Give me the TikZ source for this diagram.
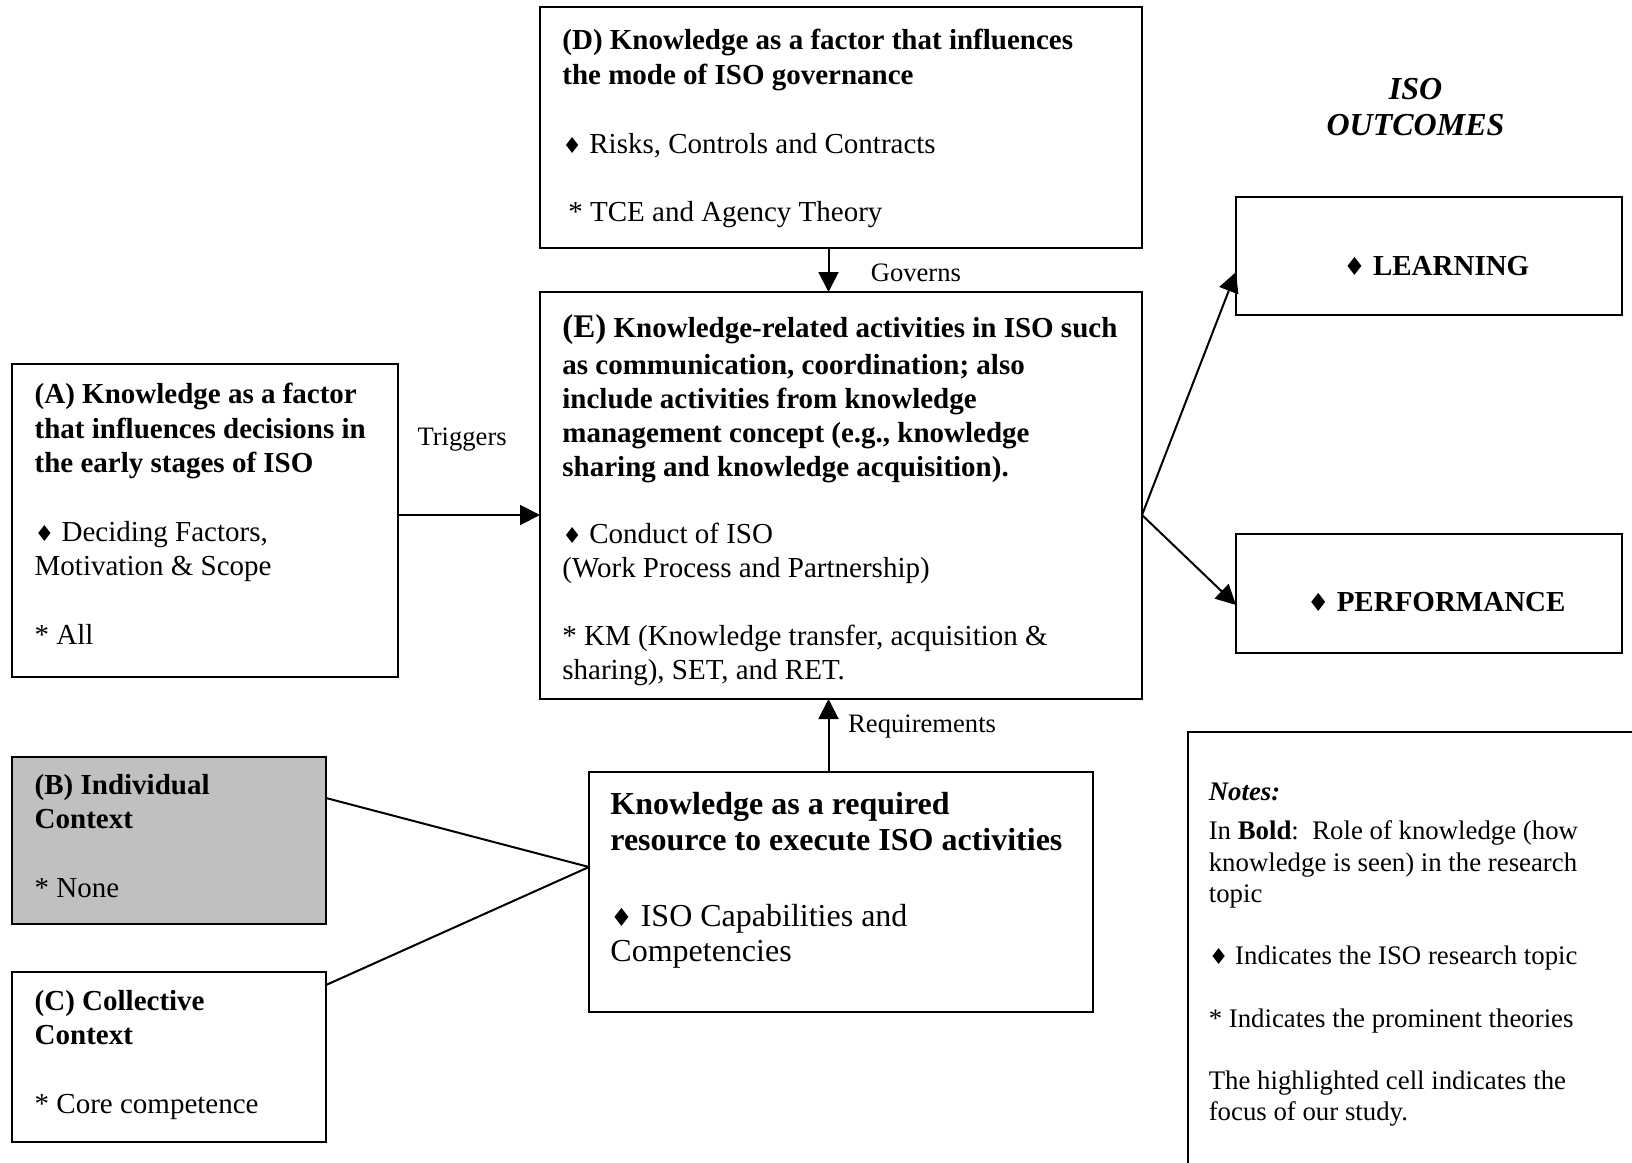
\documentclass[tikz,border=0pt]{standalone}
\usepackage{fontspec}
\setmainfont{Liberation Serif}
\newfontfamily\dejavu{DejaVu Sans}
\usetikzlibrary{arrows.meta}
\definecolor{boxgray}{RGB}{192,192,192}
\newcommand{\dmd}{{\dejavu\fontsize{11}{9}\selectfont ♦}}
\newcommand{\bigdmd}{{\dejavu\fontsize{12.5}{10}\selectfont ♦}}
\begin{document}
\begin{tikzpicture}[x=0.5pt,y=-0.5pt,
  box/.style={draw, line width=1pt, inner sep=0pt, outer sep=0pt},
  txt/.style={anchor=north west, inner sep=0pt, align=left, font=\fontsize{14.5}{17.2}\selectfont},
  etxt/.style={anchor=north west, inner sep=0pt, align=left, font=\fontsize{14.5}{16.9}\selectfont},
  bigtxt/.style={anchor=north west, inner sep=0pt, align=left, font=\fontsize{16}{17.7}\selectfont},
  notetxt/.style={anchor=north west, inner sep=0pt, align=left, font=\fontsize{13.4}{15.6}\selectfont},
  lbl/.style={inner sep=0pt, font=\fontsize{13.3}{15}\selectfont},
  arr/.style={line width=1pt, -{Triangle[length=10pt,width=10pt]}},
  ln/.style={line width=1pt}]
\useasboundingbox (0,0) rectangle (1632,1162);
\clip (0,0) rectangle (1632,1162);
\fill[white] (0,0) rectangle (1632,1162);

% boxes
\node[box, minimum width=301pt, minimum height=120.5pt] (D) at (841,127.5) {};
\node[box, minimum width=301pt, minimum height=203.5pt] (E) at (841,495.5) {};
\node[box, minimum width=193pt, minimum height=156.5pt] (A) at (205,520.5) {};
\node[box, fill=boxgray, minimum width=157pt, minimum height=83.5pt] (B) at (169,840.5) {};
\node[box, minimum width=157pt, minimum height=85pt] (C) at (169,1057) {};
\node[box, minimum width=252pt, minimum height=120pt] (K) at (841,892) {};
\node[box, minimum width=193pt, minimum height=59pt] (L) at (1429,256) {};
\node[box, minimum width=193pt, minimum height=59.5pt] (P) at (1429,593.5) {};
\node[box, minimum width=236pt, minimum height=229pt] (N) at (1424,961) {};

% texts
\node[txt] (Dt) at (562,25.5) {\strut\textbf{(D) Knowledge as a factor that influences}\\
\textbf{the mode of ISO governance}\\[17.2pt]
\dmd\ Risks, Controls and Contracts\\[17.2pt]
\hspace{3pt}* TCE and Agency Theory};

\node[etxt] (Et) at (562,313.5) {\strut\textbf{{\fontsize{16.5}{16.9}\selectfont (E)} Knowledge-related activities in ISO such}\\[1.8pt]
\textbf{as communication, coordination; also}\\
\textbf{include activities from knowledge}\\
\textbf{management concept (e.g., knowledge}\\
\textbf{sharing and knowledge acquisition).}\\[16.9pt]
\dmd\ Conduct of ISO\\
(Work Process and Partnership)\\[16.9pt]
* KM (Knowledge transfer, acquisition \&\\
sharing), SET, and RET.};

\node[txt] (At) at (34.3,379.3) {\strut\textbf{(A) Knowledge as a factor}\\
\textbf{that influences decisions in}\\
\textbf{the early stages of ISO}\\[17.2pt]
\dmd\ Deciding Factors,\\
Motivation \& Scope\\[17.2pt]
* All};

\node[txt] (Bt) at (34.3,769.6) {\strut\textbf{(B) Individual}\\
\textbf{Context}\\[17.2pt]
* None};

\node[txt] (Ct) at (34.3,986.1) {\strut\textbf{(C) Collective}\\
\textbf{Context}\\[17.2pt]
* Core competence};

\node[bigtxt] (Kt) at (610,789.7) {\strut\textbf{Knowledge as a required}\\
\textbf{resource to execute ISO activities}\\[20.3pt]
\bigdmd\ ISO Capabilities and\\
Competencies};

\node[notetxt] (Nt) at (1208.4,778.7) {\strut\textbf{\textit{Notes:}}\\[3.85pt]
In \textbf{Bold}:\ \ Role of knowledge (how\\
knowledge is seen) in the research\\
topic\\[15.6pt]
\dmd\ Indicates the ISO research topic\\[15.6pt]
* Indicates the prominent theories\\[15.6pt]
The highlighted cell indicates the\\
focus of our study.};

\node[inner sep=0pt, font=\fontsize{14.5}{17.2}\selectfont\bfseries] (Lt) at (1436.3,266.4) {\bigdmd\ LEARNING};
\node[inner sep=0pt, font=\fontsize{14.5}{17.2}\selectfont\bfseries] (Pt) at (1436.3,601.6) {\bigdmd\ PERFORMANCE};

\node[inner sep=0pt, align=center, font=\fontsize{16}{17.7}\selectfont\bfseries\itshape] (O) at (1415.5,107.2) {ISO\\OUTCOMES};

% labels
\node[lbl] (gov) at (915.9,272.6) {Governs};
\node[lbl] (trig) at (462.1,439.2) {Triggers};
\node[lbl] (req) at (922.1,726.4) {Requirements};

% connectors
\coordinate (tr) at (470,515);
\draw[arr] ([xshift=-6.25pt]D.south) -- ([xshift=-6.25pt]E.north);
\draw[arr] ([xshift=-6.25pt]K.north) -- ([xshift=-6.25pt]E.south);
\draw[arr] (A.east |- tr) -- (E.west |- tr);
\draw[arr] (E.east |- tr) -- ([yshift=-8pt]L.west);
\draw[arr] (E.east |- tr) -- ([yshift=-5.75pt]P.west);
\coordinate (kj) at ([yshift=12.5pt]K.west);
\draw[ln] ([yshift=21.25pt]B.east) -- (kj);
\draw[ln] ([yshift=36pt]C.east) -- (kj);
\end{tikzpicture}
\end{document}
